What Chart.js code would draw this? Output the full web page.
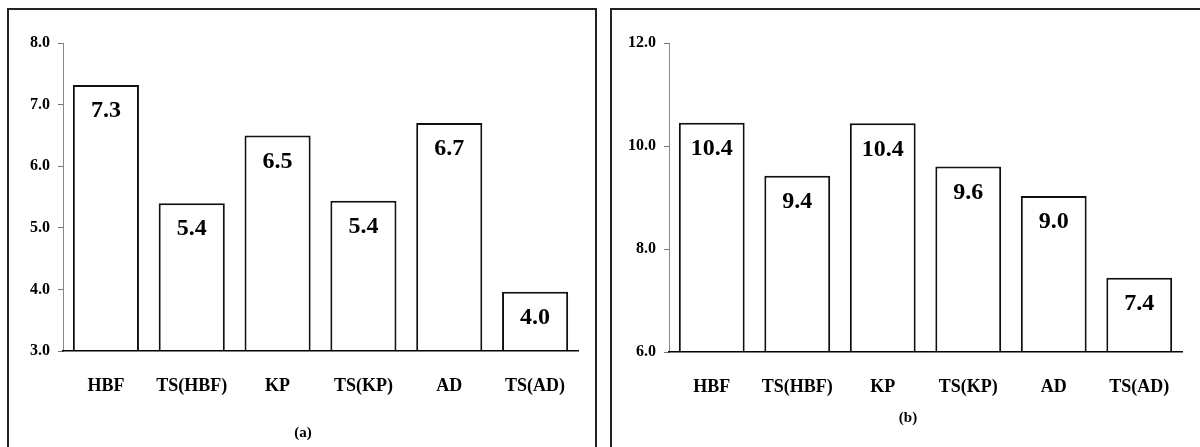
<!DOCTYPE html>
<html>
<head>
<meta charset="utf-8">
<script src="https://cdn.jsdelivr.net/npm/chart.js@4"></script>
<style>
  html, body { margin: 0; padding: 0; background: #fff; }
  body { width: 1200px; height: 447px; position: relative; overflow: hidden; }
  .frame { position: absolute; top: 8px; height: 460px; border: 2px solid #222; border-bottom: none; box-sizing: border-box; }
  canvas { position: absolute; top: 0; }
  .caption { position: absolute; font: bold 15px "Liberation Serif", "Times New Roman", serif; transform: translate(-50%, -50%); }
</style>
</head>
<body>
<div class="frame" style="left:7px; width:590px;"></div>
<div class="frame" style="left:610px; width:600px;"></div>
<canvas id="chartA" width="600" height="447" style="left:0"></canvas>
<canvas id="chartB" width="600" height="447" style="left:600px"></canvas>
<div class="caption" style="left:303px; top:432px;">(a)</div>
<div class="caption" style="left:908px; top:417px;">(b)</div>
<script>
// Catégories et valeurs
const categories = ['HBF', 'TS(HBF)', 'KP', 'TS(KP)', 'AD', 'TS(AD)'];
const valuesA = [7.32, 5.40, 6.50, 5.44, 6.70, 3.96];
const valuesB = [10.45, 9.42, 10.44, 9.60, 9.03, 7.44];
const ticksA = [3, 4, 5, 6, 7, 8];
const ticksB = [6, 8, 10, 12];

const serif = '"Liberation Serif", "Times New Roman", serif';

// Plugin pour écrire la valeur dans le haut de chaque barre
const valueLabels = {
    id: 'valueLabels',
    afterDatasetsDraw(chart) {
        const ctx = chart.ctx;
        const meta = chart.getDatasetMeta(0);
        const data = chart.data.datasets[0].data;
        ctx.save();
        ctx.font = 'bold 24px ' + serif;
        ctx.fillStyle = '#000';
        ctx.textAlign = 'center';
        ctx.textBaseline = 'middle';
        meta.data.forEach((bar, i) => {
            ctx.fillText(data[i].toFixed(1), bar.x, bar.y + 26);
        });
        ctx.restore();
    }
};

function makeChart(id, values, tickValues, yWidth, padRight, xHeight) {
    const ctx = document.getElementById(id).getContext('2d');
    return new Chart(ctx, {
        type: 'bar',
        data: {
            labels: categories,
            datasets: [{
                data: values,
                backgroundColor: '#ffffff',
                borderColor: '#111111',
                borderWidth: 2,
                barPercentage: 0.77,
                categoryPercentage: 1.0
            }]
        },
        options: {
            responsive: false,
            animation: false,
            layout: { padding: { top: 43, right: padRight, bottom: 0, left: 0 } },
            plugins: {
                legend: { display: false },
                tooltip: { enabled: false }
            },
            scales: {
                x: {
                    afterFit: s => { s.height = xHeight; },
                    grid: { display: false },
                    // axe dessiné par-dessus les barres
                    border: { display: true, color: '#000', width: 1.5, z: 1 },
                    ticks: {
                        color: '#000',
                        padding: 17,
                        font: { family: serif, size: 18, weight: 'bold' }
                    }
                },
                y: {
                    min: tickValues[0],
                    max: tickValues[tickValues.length - 1],
                    afterFit: s => { s.width = yWidth; },
                    afterBuildTicks: s => { s.ticks = tickValues.map(v => ({ value: v })); },
                    grid: { display: true, drawOnChartArea: false, drawTicks: true, tickLength: 5, color: '#777' },
                    border: { display: true, color: '#888', width: 1 },
                    ticks: {
                        color: '#000',
                        padding: 8,
                        font: { family: serif, size: 16, weight: 'bold' },
                        callback: v => Number(v).toFixed(1)
                    }
                }
            }
        },
        plugins: [valueLabels]
    });
}

makeChart('chartA', valuesA, ticksA, 63, 22, 96);
makeChart('chartB', valuesB, ticksB, 69, 18, 95);
</script>
</body>
</html>
